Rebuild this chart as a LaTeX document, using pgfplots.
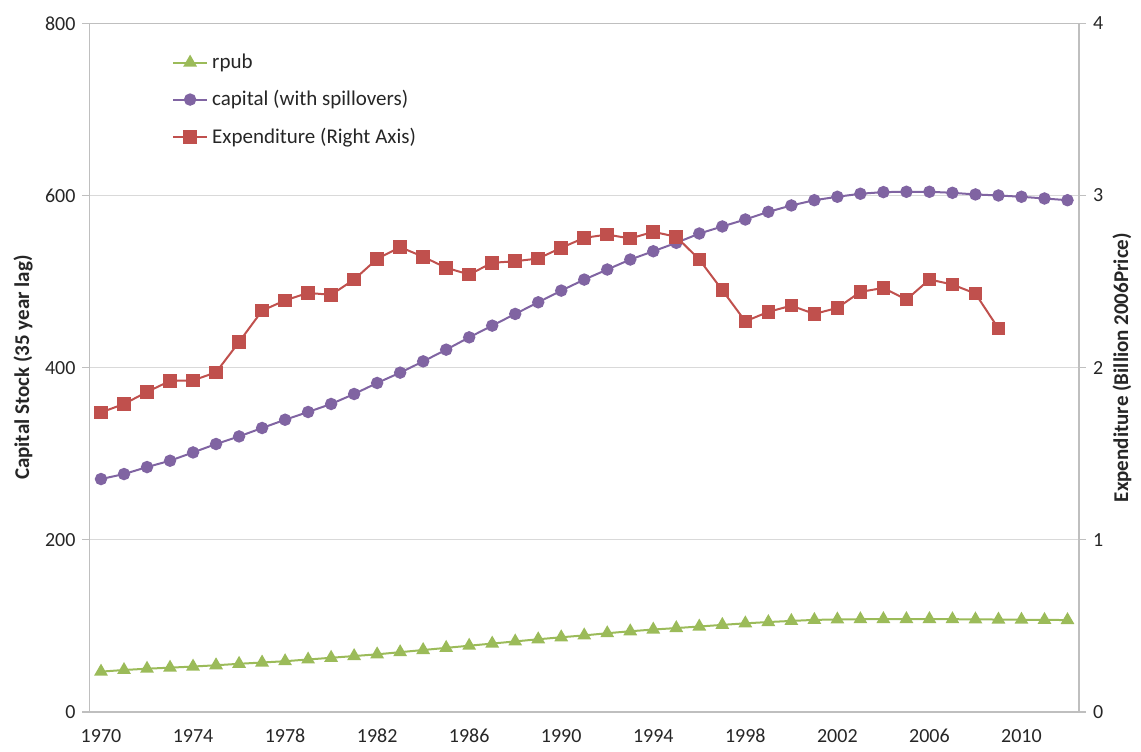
\documentclass[border=0pt]{standalone}
\usepackage{fontspec}
\setmainfont{Carlito}
\usepackage{pgfplots}
\pgfplotsset{compat=1.18}
\usepackage{pgfplotstable}
\definecolor{cred}{HTML}{C0504D}
\definecolor{cpurple}{HTML}{8064A2}
\definecolor{cgreen}{HTML}{9BBB59}
\definecolor{gridgray}{HTML}{D9D9D9}
\definecolor{axisgray}{HTML}{BFBFBF}
\definecolor{txt}{HTML}{262626}

\pgfplotstableread{
year rpub capital
1970 46.9 270.6
1971 48.8 276.4
1972 50.3 284.5
1973 51.5 291.9
1974 52.8 301.5
1975 54.3 311.3
1976 56.0 320.1
1977 57.5 329.9
1978 59.0 339.5
1979 61.0 348.5
1980 63.0 357.8
1981 65.0 369.4
1982 67.0 382.2
1983 69.5 394.2
1984 72.0 407.3
1985 74.5 420.9
1986 77.0 435.2
1987 79.5 448.8
1988 82.0 462.4
1989 84.5 475.9
1990 86.8 489.5
1991 89.0 502.3
1992 91.5 514.0
1993 93.8 525.6
1994 95.8 535.2
1995 97.5 545.0
1996 99.3 555.8
1997 101.2 564.0
1998 103.0 572.1
1999 104.5 581.0
2000 105.8 588.4
2001 107.0 594.5
2002 107.5 598.5
2003 107.8 602.0
2004 108.0 603.9
2005 108.0 604.3
2006 108.0 604.3
2007 107.8 603.1
2008 107.6 601.2
2009 107.4 600.0
2010 107.2 598.5
2011 107.0 596.5
2012 106.8 594.5
}\leftdata

\pgfplotstableread{
year exp
1970 1.740
1971 1.789
1972 1.859
1973 1.923
1974 1.926
1975 1.973
1976 2.149
1977 2.331
1978 2.391
1979 2.434
1980 2.423
1981 2.512
1982 2.632
1983 2.700
1984 2.644
1985 2.580
1986 2.541
1987 2.609
1988 2.618
1989 2.634
1990 2.696
1991 2.754
1992 2.773
1993 2.750
1994 2.789
1995 2.760
1996 2.628
1997 2.450
1998 2.269
1999 2.324
2000 2.360
2001 2.312
2002 2.347
2003 2.440
2004 2.463
2005 2.395
2006 2.512
2007 2.483
2008 2.430
2009 2.227
}\expdata

\pgfplotsset{
  common/.style={
    scale only axis,
    width=494.75pt, height=344.35pt,
    at={(0,0)}, anchor=south west,
    xmin=1969.5, xmax=2012.5,
    axis line style={draw=axisgray, line width=0.6pt},
    tick style={draw=axisgray, line width=0.6pt},
    tick align=outside,
    major tick length=3.5pt,
    /pgf/number format/assume math mode=true,
    ticklabel style={font=\fontsize{10}{12}\selectfont, text=txt},
    label style={font=\bfseries\fontsize{10.5}{12}\selectfont, text=txt},
  }
}

\begin{document}
\begin{tikzpicture}
\path[use as bounding box] (-44.75pt,-19.5pt) rectangle (525.75pt,356pt);
\begin{axis}[common,
  ymin=0, ymax=800, ytick={0,200,...,800},
  ytick pos=left,
  xtick pos=bottom,
  ymajorgrids,
  grid style={draw=gridgray, line width=0.6pt},
  xtick={1970,1974,...,2010},
  xticklabels={1970,1974,1978,1982,1986,1990,1994,1998,2002,2006,2010},
  x tick style={draw=none},
  xticklabel style={yshift=-1.5pt},
  extra x ticks={1969.5,1973.5,...,2009.5},
  extra x tick labels={},
  extra x tick style={tick style={draw=axisgray, line width=0.6pt}, major tick length=3.5pt, grid=none},
  yticklabel style={/pgf/number format/fixed},
  ylabel={Capital Stock (35 year lag)},
  ylabel style={at={(axis description cs:-0.0671,0.5)}, anchor=center},
]
\addplot[cgreen, line width=1pt, mark=triangle*, mark size=3pt, mark options={fill=cgreen, draw=cgreen}] table[x=year, y=rpub] {\leftdata};
\addplot[cpurple, line width=1pt, mark=*, mark size=2.6pt, mark options={fill=cpurple, draw=cpurple}] table[x=year, y=capital] {\leftdata};
\end{axis}
\begin{axis}[common,
  ymin=0, ymax=4, ytick={0,1,...,4},
  axis y line*=right,
  axis x line=none,
  ylabel={Expenditure (Billion 2006Price)},
  ylabel style={at={(axis description cs:1.0435,0.5)}, anchor=center, rotate=0},
  legend style={draw=none, fill=none, at={(0.081,0.965)}, anchor=north west,
    font=\fontsize{10.5}{12}\selectfont, text=txt, row sep=5.5pt,
    legend cell align=left, inner sep=1pt},
  legend cell align=left,
]
\addlegendimage{cgreen, line width=1pt, mark=triangle*, mark size=3pt, mark options={fill=cgreen, draw=cgreen}}
\addlegendentry{rpub}
\addlegendimage{cpurple, line width=1pt, mark=*, mark size=2.6pt, mark options={fill=cpurple, draw=cpurple}}
\addlegendentry{capital (with spillovers)}
\addplot[cred, line width=1pt, mark=square*, mark size=2.9pt, mark options={fill=cred, draw=cred}] table[x=year, y=exp] {\expdata};
\addlegendentry{Expenditure (Right Axis)}
\end{axis}
\end{tikzpicture}
\end{document}
